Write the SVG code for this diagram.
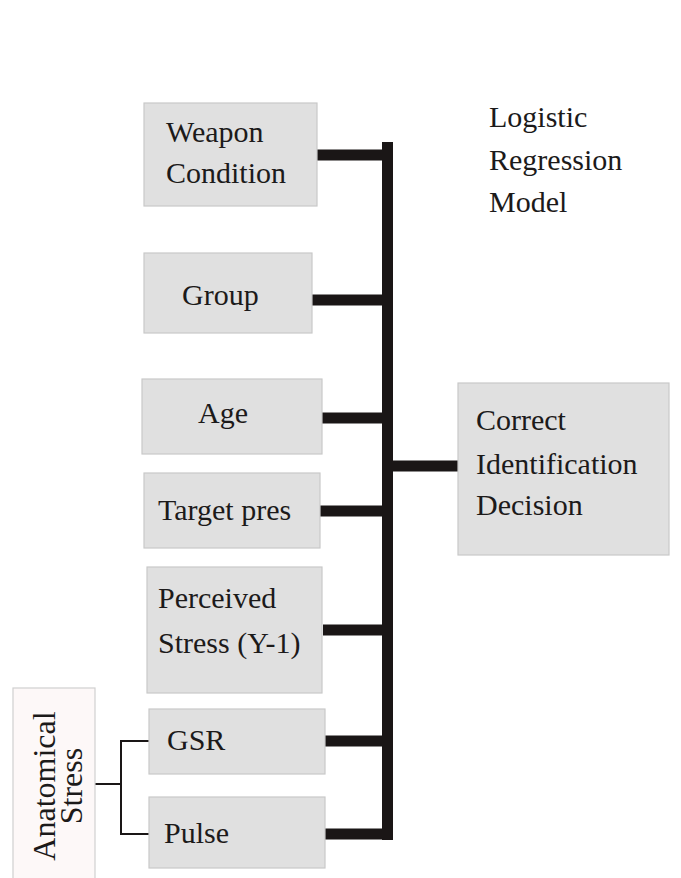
<svg xmlns="http://www.w3.org/2000/svg" width="681" height="878" viewBox="0 0 681 878">
<style>
.box{fill:#e0e0e0;stroke:#c9c9c9;stroke-width:1.2}
.lbl{font-family:"Liberation Serif","Times New Roman",serif;font-size:30px;fill:#1c1a1a}
.big{font-size:32px}
.bar{stroke:#1a1616;stroke-width:11;fill:none}
.thin{stroke:#1a1616;stroke-width:2;fill:none}
</style>
<rect width="681" height="878" fill="#ffffff"/>
<g id="connectors">
<line class="bar" x1="387.5" y1="142" x2="387.5" y2="840"/>
<line class="bar" x1="317" y1="155" x2="387" y2="155"/>
<line class="bar" x1="308" y1="300" x2="387" y2="300"/>
<line class="bar" x1="322" y1="418" x2="387" y2="418"/>
<line class="bar" x1="387" y1="466" x2="458" y2="466"/>
<line class="bar" x1="319" y1="511" x2="387" y2="511"/>
<line class="bar" x1="323" y1="630" x2="392" y2="630"/>
<line class="bar" x1="325" y1="741" x2="387" y2="741"/>
<line class="bar" x1="325" y1="834" x2="387" y2="834"/>
<polyline class="thin" points="150,741 121,741 121,834 150,834"/>
<line class="thin" x1="95" y1="784" x2="121" y2="784"/>
</g>
<g id="title">
<text class="lbl" x="489" y="127">Logistic</text>
<text class="lbl" x="489" y="170">Regression</text>
<text class="lbl" x="489" y="212">Model</text>
</g>
<g id="weapon">
<rect class="box" x="144" y="103" width="173" height="103"/>
<text class="lbl" x="166" y="142">Weapon</text>
<text class="lbl" x="166" y="183">Condition</text>
</g>
<g id="group">
<rect class="box" x="144" y="253" width="168" height="80"/>
<text class="lbl" x="182" y="305">Group</text>
</g>
<g id="age">
<rect class="box" x="142" y="379" width="180" height="75"/>
<text class="lbl" x="198" y="423">Age</text>
</g>
<g id="target">
<rect class="box" x="144" y="473" width="176" height="75"/>
<text class="lbl" x="158" y="520">Target pres</text>
</g>
<g id="perceived">
<rect class="box" x="147" y="567" width="175" height="126"/>
<text class="lbl" x="158" y="608">Perceived</text>
<text class="lbl" x="158" y="653">Stress (Y-1)</text>
</g>
<g id="gsr">
<rect class="box" x="149" y="709" width="176" height="65"/>
<text class="lbl" x="167" y="750">GSR</text>
</g>
<g id="pulse">
<rect class="box" x="149" y="797" width="176" height="71"/>
<text class="lbl" x="164" y="843">Pulse</text>
</g>
<g id="anatomical">
<rect x="13" y="688" width="82" height="200" fill="#fdf8f8" stroke="#d0d0d0" stroke-width="1.2"/>
<text class="lbl big" text-anchor="middle" transform="translate(55,786) rotate(-90)">Anatomical</text>
<text class="lbl big" text-anchor="middle" transform="translate(82,786) rotate(-90)">Stress</text>
</g>
<g id="decision">
<rect class="box" x="458" y="383" width="211" height="172"/>
<text class="lbl" x="476" y="430">Correct</text>
<text class="lbl" x="476" y="474">Identification</text>
<text class="lbl" x="476" y="515">Decision</text>
</g>
</svg>
